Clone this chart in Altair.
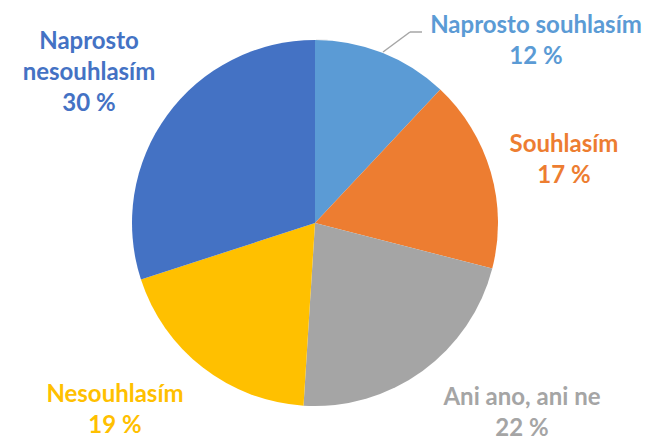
import altair as alt
import pandas as pd

categories = ["Naprosto souhlasím", "Souhlasím", "Ani ano, ani ne", "Nesouhlasím", "Naprosto nesouhlasím"]
values = [12, 17, 22, 19, 30]
colors = ["#5B9BD5", "#ED7D31", "#A5A5A5", "#FFC000", "#4472C4"]
label_lines = [
    ["Naprosto souhlasím", "12 %"],
    ["Souhlasím", "17 %"],
    ["Ani ano, ani ne", "22 %"],
    ["Nesouhlasím", "19 %"],
    ["Naprosto", "nesouhlasím", "30 %"],
]

df = pd.DataFrame({"cat": categories, "val": values, "order": list(range(len(values)))})

W, H = 634, 433
CX, CY, R = 307, 215, 183

color_scale = alt.Scale(domain=categories, range=colors)

# soft shadow
shadow = alt.Chart(pd.DataFrame({"v": [1]})).mark_arc(
    radius=R + 3, color="#000000", opacity=0.06
).encode(theta=alt.Theta("v:Q"), x=alt.value(CX + 1), y=alt.value(CY + 2))

pie = alt.Chart(df).mark_arc(radius=R, stroke=None).encode(
    theta=alt.Theta("val:Q", stack=True),
    order=alt.Order("order:Q"),
    color=alt.Color("cat:N", scale=color_scale, legend=None),
    x=alt.value(CX),
    y=alt.value(CY),
)

# label layout (pixel positions: center x, first-line middle y)
label_pos = [(528, 18), (556, 137), (514, 390), (107, 387), (81, 34)]
line_h = 31

texts = []
for lines, col, (lx, ly) in zip(label_lines, colors, label_pos):
    t = alt.Chart(pd.DataFrame({"v": [1]})).mark_text(
        font="Lato", fontWeight="bold", fontSize=24, color=col,
        align="center", baseline="middle", lineHeight=line_h,
    ).encode(x=alt.value(lx), y=alt.value(ly), text=alt.value(lines))
    texts.append(t)

leader1 = alt.Chart(pd.DataFrame({"v": [1]})).mark_rule(color="#A6A6A6", strokeWidth=1.5).encode(
    x=alt.value(375), y=alt.value(44), x2=alt.value(402), y2=alt.value(24))
leader2 = alt.Chart(pd.DataFrame({"v": [1]})).mark_rule(color="#A6A6A6", strokeWidth=1.5).encode(
    x=alt.value(402), y=alt.value(24), x2=alt.value(414), y2=alt.value(24))

chart = alt.layer(shadow, pie, leader1, leader2, *texts).properties(
    width=W, height=H, padding=0, autosize=alt.AutoSizeParams(type="none")
).configure_view(stroke=None)

chart.save("out.html", embed_options={"renderer": "svg", "actions": False})
